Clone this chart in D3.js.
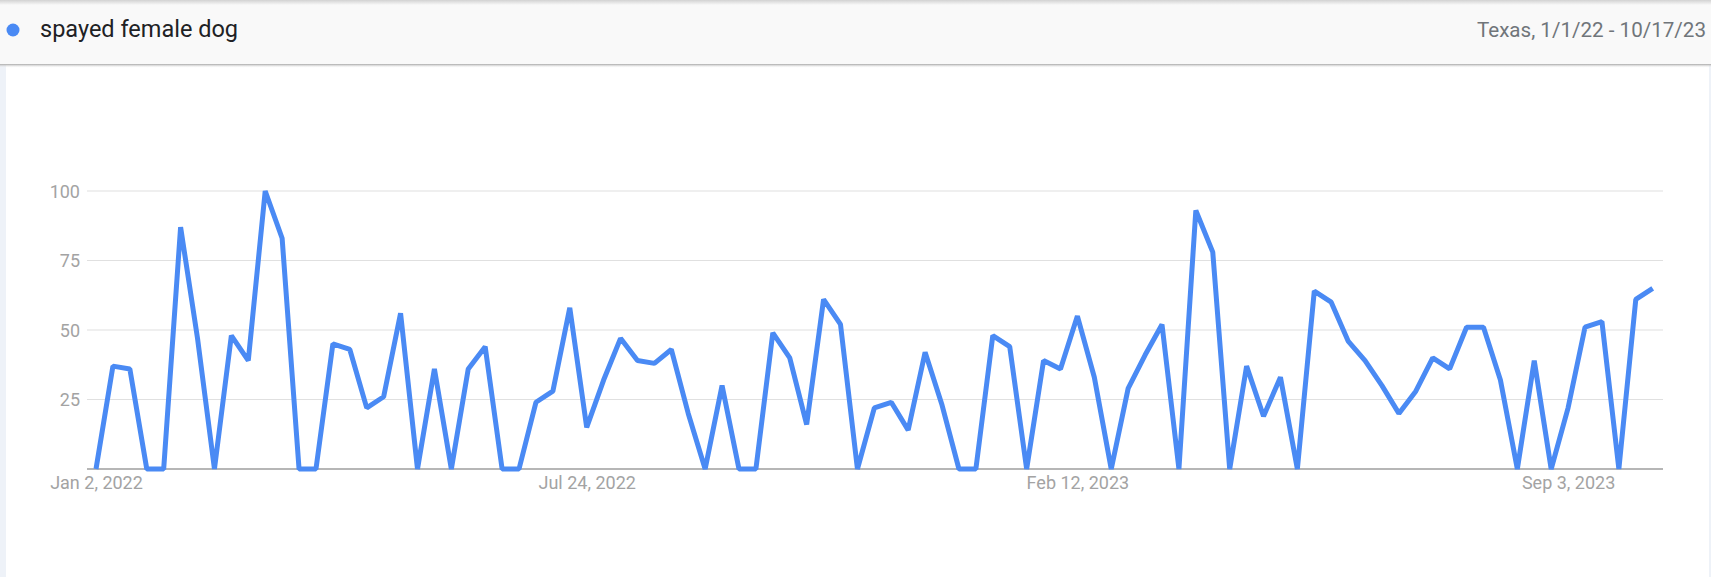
<!DOCTYPE html>
<html>
<head>
<meta charset="utf-8">
<script src="https://cdn.jsdelivr.net/npm/d3@7"></script>
<style>
  html, body { margin: 0; padding: 0; background: #ffffff; }
  svg { display: block; font-family: Roboto, "Noto Sans", Arial, sans-serif; }
</style>
</head>
<body>
<svg id="chart" width="1711" height="577"></svg>
<script>
// ---- data ----
const seriesName = "spayed female dog";
const regionLabel = "Texas, 1/1/22 - 10/17/23";
const startWeek = "2022-01-02";
const endWeek = "2023-10-08";
const values = [
  0, 37, 36, 0, 0, 87, 47, 0, 48, 39,
  100, 83, 0, 0, 45, 43, 22, 26, 56, 0,
  36, 0, 36, 44, 0, 0, 24, 28, 58, 15,
  32, 47, 39, 38, 43, 20, 0, 30, 0, 0,
  49, 40, 16, 61, 52, 0, 22, 24, 14, 42,
  23, 0, 0, 48, 44, 0, 39, 36, 55, 33,
  0, 29, 41, 52, 0, 93, 78, 0, 37, 19,
  33, 0, 64, 60, 46, 39, 30, 20, 28, 40,
  36, 51, 51, 32, 0, 39, 0, 22, 51, 53,
  0, 61, 65
];
const yTicks = [0, 25, 50, 75, 100];
const xTickDates = ["2022-01-02", "2022-07-24", "2023-02-12", "2023-09-03"];

// ---- build ----
const parse = d3.utcParse("%Y-%m-%d");
const weeks = d3.utcWeek.range(parse(startWeek), d3.utcDay.offset(parse(endWeek), 1));
const data = weeks.map((d, i) => ({ date: d, value: values[i] }));

const svg = d3.select("#chart");
const W = 1711, H = 577;

// side strips / background
svg.append("rect").attr("x", 0).attr("y", 0).attr("width", W).attr("height", H).attr("fill", "#eef2f8");
svg.append("rect").attr("x", 6).attr("y", 40).attr("width", 1703).attr("height", 580)
  .attr("rx", 8).attr("fill", "#ffffff");

// header
const defs = svg.append("defs");
const g1 = defs.append("linearGradient").attr("id", "shTop").attr("x1", 0).attr("y1", 0).attr("x2", 0).attr("y2", 1);
g1.append("stop").attr("offset", 0).attr("stop-color", "#d2d2d2");
g1.append("stop").attr("offset", 1).attr("stop-color", "#f9f9f9");
const g2 = defs.append("linearGradient").attr("id", "shBot").attr("x1", 0).attr("y1", 0).attr("x2", 0).attr("y2", 1);
g2.append("stop").attr("offset", 0).attr("stop-color", "#a8a8a8");
g2.append("stop").attr("offset", 1).attr("stop-color", "#ffffff").attr("stop-opacity", 0);

svg.append("rect").attr("x", 0).attr("y", 0).attr("width", W).attr("height", 65).attr("fill", "#f9f9f9");
svg.append("rect").attr("x", 0).attr("y", 0).attr("width", W).attr("height", 5).attr("fill", "url(#shTop)");
svg.append("rect").attr("x", 0).attr("y", 64).attr("width", W).attr("height", 4).attr("fill", "url(#shBot)");

svg.append("circle").attr("cx", 13).attr("cy", 30).attr("r", 6.5).attr("fill", "#4a8af4");
svg.append("text").attr("x", 40).attr("y", 37).attr("font-size", 23.5).attr("fill", "#202124")
  .text(seriesName);
svg.append("text").attr("x", 1706).attr("y", 37).attr("font-size", 20.6).attr("fill", "#70757a")
  .attr("text-anchor", "end").text(regionLabel);

// scales
const x = d3.scaleUtc().domain(d3.extent(data, d => d.date)).range([96, 1652.7]);
const y = d3.scaleLinear().domain([0, 100]).range([469, 191]);
const plotL = 87, plotR = 1663;

// gridlines
const gy = svg.append("g");
gy.selectAll("line").data(yTicks).join("line")
  .attr("x1", plotL).attr("x2", plotR)
  .attr("y1", d => y(d)).attr("y2", d => y(d))
  .attr("stroke", d => d === 0 ? "#9e9e9e" : "#e0e0e0")
  .attr("stroke-width", d => d === 0 ? 1.5 : 1.2);

// y axis labels
const yAxis = d3.axisLeft(y).tickValues(yTicks.filter(d => d > 0)).tickSize(0).tickPadding(0);
const ya = svg.append("g").attr("transform", "translate(80,0)").call(yAxis);
ya.select(".domain").remove();
ya.selectAll("text").attr("font-size", 18).attr("fill", "#a3a3a3")
  .attr("font-family", "Roboto, sans-serif").attr("dy", "0.35em");

// x axis labels
const fmt = d3.utcFormat("%b %-d, %Y");
const xAxis = d3.axisBottom(x).tickValues(xTickDates.map(parse)).tickFormat(fmt).tickSize(0).tickPadding(0);
const xa = svg.append("g").attr("transform", "translate(0,489)").call(xAxis);
xa.select(".domain").remove();
xa.selectAll("text").attr("font-size", 18).attr("fill", "#a3a3a3")
  .attr("font-family", "Roboto, sans-serif").attr("dy", 0);

// line
const line = d3.line().x(d => x(d.date)).y(d => y(d.value));
svg.append("path").datum(data).attr("d", line)
  .attr("fill", "none").attr("stroke", "#4a8af4").attr("stroke-width", 5)
  .attr("stroke-linejoin", "bevel");
</script>
</body>
</html>
